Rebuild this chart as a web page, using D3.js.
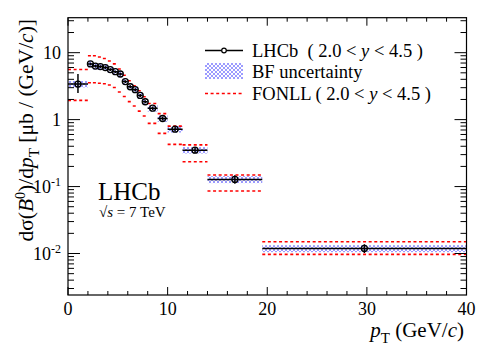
<!DOCTYPE html>
<html><head><meta charset="utf-8">
<script src="https://cdn.jsdelivr.net/npm/d3@7"></script>
<style>
body{margin:0;background:#fff}
svg text{font-family:"Liberation Serif","Times New Roman",serif;fill:#000}
</style></head>
<body><svg id="c" width="491" height="352" font-family="'Liberation Serif', 'Times New Roman', serif"></svg>
<script>
// ---- data ----
const binLo = [0,2,2.5,3,3.5,4,4.5,5,5.5,6,6.5,7,7.5,8,9,10,11.5,14,19.5];
const binHi = [2,2.5,3,3.5,4,4.5,5,5.5,6,6.5,7,7.5,8,9,10,11.5,14,19.5,40];
const xsec  = [3.4,6.8,6.3,6.2,6.0,5.6,5.2,4.8,3.7,3.1,2.8,2.3,1.85,1.48,1.04,0.72,0.35,0.128,0.0119];
const errLo = [0.9,0.3,0.3,0.3,0.28,0.26,0.24,0.22,0.18,0.15,0.14,0.12,0.1,0.09,0.07,0.055,0.035,0.018,0.0017];
const errHi = [1.4,0.3,0.3,0.3,0.28,0.26,0.24,0.22,0.18,0.15,0.14,0.12,0.1,0.09,0.07,0.055,0.035,0.02,0.0019];
const bfUnc = [0.11,0.11,0.11,0.11,0.11,0.11,0.11,0.11,0.11,0.11,0.11,0.11,0.11,0.11,0.11,0.11,0.11,0.12,0.12];
const fonllHigh = [5.6,9.0,9.0,8.6,8.2,7.5,6.8,5.7,4.6,3.8,3.2,2.7,2.2,1.74,1.23,0.80,0.42,0.149,0.0150];
const fonllLow  = [1.94,3.56,3.56,3.49,3.43,3.29,3.02,2.59,2.21,1.86,1.60,1.34,1.13,0.88,0.624,0.427,0.235,0.0857,0.0097];
const xTickLabels = [0,10,20,30,40];
const yTickLabels = [0.01,0.1,1,10];
const yTickText = [["10","-2"],["10","-1"],["1",""],["10",""]];

// ---- layout ----
const M = {l:68, r:466.5, t:17.7, b:295};
const svg = d3.select("#c");
const x = d3.scaleLinear().domain([0,40]).range([M.l, M.r]);
const y = d3.scaleLog().domain([0.0024,33.3]).range([M.b, M.t]);

const defs = svg.append("defs");
const pat = defs.append("pattern").attr("id","hatch").attr("patternUnits","userSpaceOnUse")
  .attr("width",4).attr("height",4);
pat.append("path").attr("d","M0,0L4,4M4,0L0,4").attr("stroke","#4848ff").attr("stroke-width",0.55).attr("fill","none");
defs.append("clipPath").attr("id","clip").append("rect")
  .attr("x",M.l).attr("y",M.t).attr("width",M.r-M.l).attr("height",M.b-M.t);

const data = binLo.map((lo,i)=>({lo,hi:binHi[i],v:xsec[i],el:errLo[i],eh:errHi[i],bf:bfUnc[i],fh:fonllHigh[i],fl:fonllLow[i]}));
const g = svg.append("g").attr("clip-path","url(#clip)");

// BF uncertainty hatched boxes
g.selectAll("rect.bf").data(data).join("rect").attr("class","bf")
  .attr("x",d=>x(d.lo)).attr("width",d=>x(d.hi)-x(d.lo))
  .attr("y",d=>y(d.v*(1+d.bf))).attr("height",d=>y(d.v*(1-d.bf))-y(d.v*(1+d.bf)))
  .attr("fill","url(#hatch)");

// FONLL dashed bands
["fh","fl"].forEach(k=>{
  g.selectAll("line."+k).data(data).join("line").attr("class",k)
    .attr("x1",d=>x(d.lo)).attr("x2",d=>x(d.hi))
    .attr("y1",d=>y(d[k])).attr("y2",d=>y(d[k]))
    .attr("stroke","#ff0000").attr("stroke-width",1.6).attr("stroke-dasharray","3,2.6");
});

// data error bars
g.selectAll("line.xe").data(data).join("line").attr("class","xe")
  .attr("x1",d=>x(d.lo)).attr("x2",d=>x(d.hi)).attr("y1",d=>y(d.v)).attr("y2",d=>y(d.v))
  .attr("stroke","#000").attr("stroke-width",1.5);
g.selectAll("line.ye").data(data).join("line").attr("class","ye")
  .attr("x1",d=>x((d.lo+d.hi)/2)).attr("x2",d=>x((d.lo+d.hi)/2))
  .attr("y1",d=>y(d.v+d.eh)).attr("y2",d=>y(d.v-d.el))
  .attr("stroke","#000").attr("stroke-width",1.5);
g.selectAll("circle.m").data(data).join("circle").attr("class","m")
  .attr("cx",d=>x((d.lo+d.hi)/2)).attr("cy",d=>y(d.v)).attr("r",3)
  .attr("fill","none").attr("stroke","#000").attr("stroke-width",1.3);

// ---- frame and ticks ----
const ax = svg.append("g").attr("stroke","#000").attr("stroke-width",1);
ax.append("rect").attr("x",M.l).attr("y",M.t).attr("width",M.r-M.l).attr("height",M.b-M.t)
  .attr("fill","none").attr("stroke-width",1.2);
const xt = d3.range(0,40.01,2);
xt.forEach(t=>{
  const L = (t%10===0)?8:4;
  ax.append("line").attr("x1",x(t)).attr("x2",x(t)).attr("y1",M.b).attr("y2",M.b-L);
  ax.append("line").attr("x1",x(t)).attr("x2",x(t)).attr("y1",M.t).attr("y2",M.t+L);
});
const yt = [];
[-3,-2,-1,0,1].forEach(e=>{for(let m=1;m<10;m++){const v=m*Math.pow(10,e); if(v>=0.0024&&v<=33.3) yt.push([v,m===1]);}});
yt.forEach(([v,maj])=>{
  const L = maj?12:6;
  ax.append("line").attr("x1",M.l).attr("x2",M.l+L).attr("y1",y(v)).attr("y2",y(v));
  ax.append("line").attr("x1",M.r).attr("x2",M.r-L).attr("y1",y(v)).attr("y2",y(v));
});

// tick labels
xTickLabels.forEach(t=>{
  svg.append("text").attr("x",x(t)).attr("y",315).attr("text-anchor","middle")
    .attr("font-size",18).text(t);
});
yTickLabels.forEach((v,i)=>{
  const tx = svg.append("text").attr("x",61).attr("y",y(v)+6).attr("text-anchor","end").attr("font-size",18);
  tx.append("tspan").text(yTickText[i][0]);
  if(yTickText[i][1]) tx.append("tspan").attr("font-size",12).attr("dy",-7).text(yTickText[i][1]);
});

// axis titles
const xtit = svg.append("text").attr("x",464).attr("y",337).attr("text-anchor","end").attr("font-size",21);
xtit.append("tspan").attr("font-style","italic").text("p");
xtit.append("tspan").attr("font-size",15).attr("dy",6).text("T");
xtit.append("tspan").attr("dy",-6).text(" (GeV/");
xtit.append("tspan").attr("font-style","italic").text("c");
xtit.append("tspan").text(")");

const ytit = svg.append("text").attr("transform","translate(33,19) rotate(-90)")
  .attr("text-anchor","end").attr("font-size",21.5);
ytit.append("tspan").text("dσ(");
ytit.append("tspan").attr("font-style","italic").text("B");
ytit.append("tspan").attr("font-size",14).attr("dy",-8).text("0");
ytit.append("tspan").attr("dy",8).text(")/d");
ytit.append("tspan").attr("font-style","italic").text("p");
ytit.append("tspan").attr("font-size",15).attr("dy",6).text("T");
ytit.append("tspan").attr("dy",-6).text(" [μb / (GeV/");
ytit.append("tspan").attr("font-style","italic").text("c");
ytit.append("tspan").text(")]");

// LHCb label
svg.append("text").attr("x",98).attr("y",200).attr("font-size",25).text("LHCb");
const sq = svg.append("text").attr("x",99).attr("y",217).attr("font-size",15);
sq.append("tspan").text("√");
sq.append("tspan").attr("font-style","italic").text("s");
sq.append("tspan").text(" = 7 TeV");

// ---- legend ----
const lg = svg.append("g");
const lx0 = 205, lx1 = 243, tx = 252;
const rows = [50.5, 71, 93.5];
lg.append("line").attr("x1",lx0).attr("x2",lx1).attr("y1",rows[0]).attr("y2",rows[0]).attr("stroke","#000").attr("stroke-width",1.5);
lg.append("circle").attr("cx",(lx0+lx1)/2).attr("cy",rows[0]).attr("r",2.3).attr("fill","#fff").attr("stroke","#000").attr("stroke-width",1.2);
lg.append("rect").attr("x",lx0).attr("y",rows[1]-8).attr("width",lx1-lx0).attr("height",16).attr("fill","url(#hatch)");
lg.append("line").attr("x1",lx0).attr("x2",lx1).attr("y1",rows[2]).attr("y2",rows[2]).attr("stroke","#ff0000").attr("stroke-width",1.6).attr("stroke-dasharray","3,2.6");
function rapText(t, prefix){
  t.append("tspan").text(prefix + "( 2.0 < ");
  t.append("tspan").attr("font-style","italic").text("y");
  t.append("tspan").text(" < 4.5 )");
}
const t1 = lg.append("text").attr("x",tx).attr("y",rows[0]+6.5).attr("font-size",18.5).style("white-space","pre");
rapText(t1,"LHCb  ");
lg.append("text").attr("x",tx).attr("y",rows[1]+6.5).attr("font-size",18.5).text("BF uncertainty");
const t3 = lg.append("text").attr("x",tx).attr("y",rows[2]+6.5).attr("font-size",18.5).style("white-space","pre");
rapText(t3,"FONLL ");
</script></body></html>
